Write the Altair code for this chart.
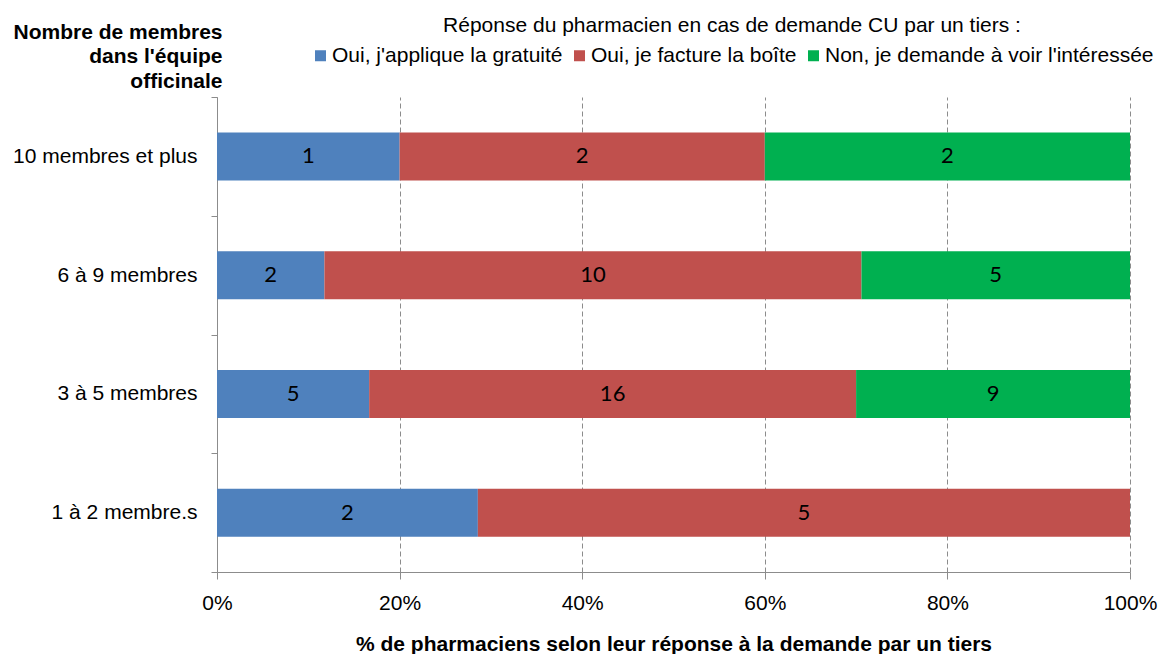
import altair as alt
import pandas as pd

groups = ["10 membres et plus", "6 à 9 membres", "3 à 5 membres", "1 à 2 membre.s"]
responses = ["Oui, j'applique la gratuité", "Oui, je facture la boîte",
             "Non, je demande à voir l'intéressée"]
gratuite = [1, 2, 5, 2]
facture = [2, 10, 16, 5]
non_voir = [2, 5, 9, 0]
colors = ["#4F81BD", "#C0504D", "#00B050"]
x_ticks = [0, 0.2, 0.4, 0.6, 0.8, 1.0]

rows = []
for i, g in enumerate(groups):
    for j, vals in enumerate([gratuite, facture, non_voir]):
        rows.append({"groupe": g, "reponse": responses[j], "ordre": j, "n": vals[i]})
df = pd.DataFrame(rows)

FONT = "Liberation Sans"
GRAY = "#8c8c8c"

base = alt.Chart(df).transform_joinaggregate(
    total="sum(n)", groupby=["groupe"]
).transform_window(
    cum="sum(n)", sort=[alt.SortField("ordre")], groupby=["groupe"], frame=[None, 0]
).transform_calculate(
    x0="(datum.cum - datum.n) / datum.total",
    x1="datum.cum / datum.total",
    xm="(datum.cum - datum.n / 2) / datum.total",
)

xscale = alt.Scale(domain=[0, 1], nice=False)
yenc = alt.Y(
    "groupe:N", sort=groups,
    scale=alt.Scale(paddingInner=0, paddingOuter=0),
    axis=alt.Axis(
        title=["Nombre de membres", "dans l'équipe", "officinale"],
        titleAngle=0, titleAlign="right", titleBaseline="alphabetic",
        titleX=5, titleY=-59, titleLineHeight=24.5,
        titleFont=FONT, titleFontSize=21, titleFontWeight="bold", titleColor="black",
        tickBand="extent", tickSize=6, tickColor=GRAY, domainColor=GRAY,
        labelFont=FONT, labelFontSize=21, labelColor="black", labelPadding=14,
        labelLimit=400, grid=False,
    ),
)

bars = base.mark_bar(size=48).encode(
    x=alt.X(
        "x0:Q", scale=xscale,
        axis=alt.Axis(
            values=x_ticks, format="%", labelFlush=False,
            grid=True, gridDash=[5, 3], gridColor=GRAY,
            domainColor=GRAY, tickColor=GRAY, tickSize=7,
            labelFont=FONT, labelFontSize=21, labelColor="black", labelPadding=13,
            title="% de pharmaciens selon leur réponse à la demande par un tiers",
            titleFont=FONT, titleFontSize=21, titleFontWeight="bold", titleColor="black",
            titleBaseline="alphabetic", titleY=78,
        ),
    ),
    x2="x1:Q",
    y=yenc,
    color=alt.Color(
        "reponse:N",
        scale=alt.Scale(domain=responses, range=colors),
        legend=alt.Legend(
            title="Réponse du pharmacien en cas de demande CU par un tiers :",
            orient="none", legendX=93, legendY=-82, direction="horizontal",
            titleAnchor="middle", titleFont=FONT, titleFontSize=21,
            titleFontWeight="normal", titleColor="black", titlePadding=9,
            titleLimit=1000,
            symbolType="square", symbolSize=121, symbolStrokeWidth=0,
            labelFont=FONT, labelFontSize=21, labelColor="black", labelOffset=1,
            labelLimit=600, columnPadding=6, padding=0,
        ),
    ),
    order=alt.Order("ordre:Q"),
)

labels = base.transform_filter("datum.n > 0").mark_text(
    font="Lato", fontSize=22, color="black", baseline="middle", align="center"
).encode(
    x=alt.X("xm:Q", scale=xscale),
    y=alt.Y("groupe:N", sort=groups),
    text="n:Q",
)

chart = alt.layer(bars, labels).properties(
    width=913, height=475,
    autosize=alt.AutoSizeParams(type="none"),
    padding={"left": 209, "top": 89, "right": 29, "bottom": 82},
).configure_view(strokeWidth=0)

chart.save("out.html", embed_options={"renderer": "svg", "actions": False})
